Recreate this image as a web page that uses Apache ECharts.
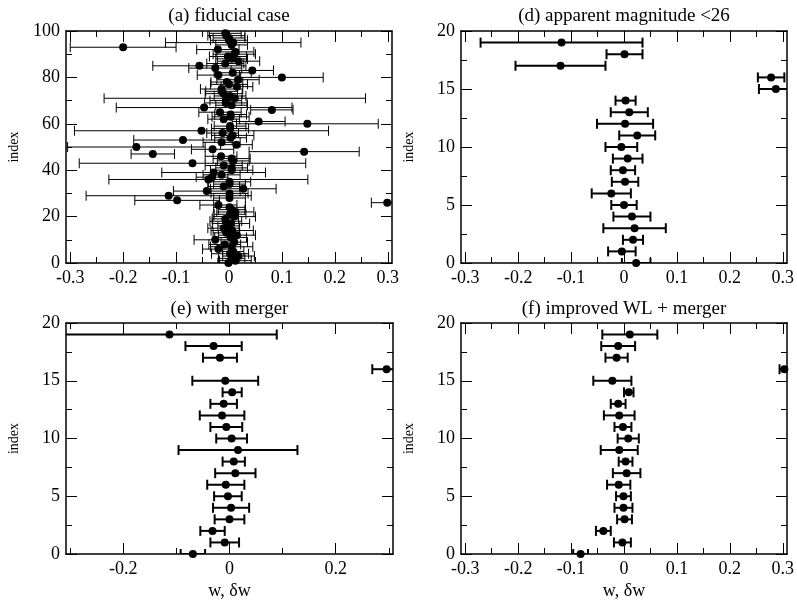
<!DOCTYPE html>
<html>
<head>
<meta charset="utf-8">
<script src="https://cdn.jsdelivr.net/npm/echarts@6/dist/echarts.min.js"></script>
<style>html,body{margin:0;padding:0;background:#fff}#c{width:797px;height:603px}</style>
</head>
<body>
<div id="c"></div>
<script>
// ---------- data ----------
const aIndex = [0,1,2,3,4,5,6,7,8,9,10,11,12,13,14,15,16,17,18,19,20,21,22,23,24,25,26,27,28,29,30,31,32,33,34,35,36,37,38,39,40,41,42,43,44,45,46,47,48,49,50,51,52,53,54,55,56,57,58,59,60,61,62,63,64,65,66,67,68,69,70,71,72,73,74,75,76,77,78,79,80,81,82,83,84,85,86,87,88,89,90,91,92,93,94,95,96,97,98,99];
const aW = [-0.001,0.012,0.005,0.018,0.002,0.008,-0.020,0.005,-0.008,0.010,
  -0.026,0.003,0.015,-0.005,0.006,-0.010,-0.001,0.004,-0.006,-0.007,
  0.010,0.002,0.012,0.005,0.001,-0.020,0.299,-0.098,0.001,-0.114,
  0.001,-0.042,0.027,-0.010,0.001,0.001,-0.039,-0.032,-0.014,-0.029,
  0.005,0.005,-0.010,-0.069,0.008,0.005,-0.015,-0.144,0.142,-0.031,
  -0.175,0.014,-0.014,-0.087,0.003,0.007,-0.012,-0.052,0.002,0.002,
  0.148,0.056,-0.010,0.003,0.003,-0.017,0.081,-0.047,0.005,-0.006,
  -0.006,0.011,0.002,-0.010,-0.014,-0.014,0.015,0.000,-0.004,0.017,
  0.100,-0.020,0.007,0.044,-0.026,-0.056,-0.007,0.018,0.005,-0.002,
  0.010,0.012,-0.021,-0.200,0.005,0.008,0.000,0.000,-0.005,-0.007];
const aErr = [0.02,0.03,0.025,0.03,0.035,0.02,0.03,0.04,0.03,0.025,
  0.04,0.03,0.035,0.025,0.04,0.03,0.02,0.035,0.03,0.025,
  0.04,0.03,0.035,0.025,0.03,0.035,0.03,0.08,0.03,0.156,
  0.035,0.063,0.062,0.03,0.03,0.04,0.188,0.03,0.035,0.098,
  0.04,0.03,0.035,0.214,0.03,0.035,0.03,0.041,0.104,0.04,
  0.13,0.03,0.035,0.093,0.03,0.04,0.03,0.24,0.035,0.03,
  0.134,0.05,0.03,0.035,0.03,0.04,0.04,0.166,0.03,0.04,
  0.03,0.247,0.03,0.035,0.03,0.04,0.03,0.035,0.03,0.04,
  0.078,0.04,0.035,0.04,0.05,0.088,0.035,0.04,0.03,0.035,
  0.04,0.035,0.04,0.10,0.03,0.128,0.035,0.03,0.035,0.03];

const smallIndex = [0,1,2,3,4,5,6,7,8,9,10,11,12,13,14,15,16,17,18,19];
const dW   = [0.023,-0.004,0.017,0.020,0.015,0.000,-0.024,0.002,-0.002,0.007,-0.005,0.025,0.002,0.010,0.003,0.287,0.278,-0.120,0.001,-0.118];
const dErr = [0.027,0.026,0.019,0.059,0.035,0.024,0.037,0.025,0.023,0.028,0.030,0.034,0.053,0.035,0.019,0.032,0.025,0.085,0.034,0.153];
const eW   = [-0.069,-0.009,-0.032,0.000,0.003,-0.003,-0.007,0.011,0.008,0.016,0.004,-0.006,-0.014,-0.011,0.005,-0.008,0.296,-0.018,-0.030,-0.113];
const eErr = [0.023,0.027,0.023,0.028,0.034,0.026,0.035,0.038,0.021,0.112,0.029,0.030,0.042,0.025,0.018,0.062,0.027,0.032,0.053,0.202];
const fW   = [-0.082,-0.003,-0.039,0.001,-0.001,-0.001,-0.010,0.005,0.003,-0.009,0.008,-0.002,-0.009,-0.011,0.009,-0.022,0.303,-0.014,-0.011,0.011];
const fErr = [0.014,0.016,0.014,0.014,0.017,0.014,0.022,0.026,0.013,0.035,0.020,0.016,0.029,0.014,0.009,0.036,0.009,0.021,0.032,0.052];

const titles = ['(a) fiducial case','(d) apparent magnitude <26','(e) with merger','(f) improved WL + merger'];
const xTickValues = [-0.3,-0.2,-0.1,0,0.1,0.2,0.3];
const xTickLabels = ['-0.3','-0.2','-0.1','0','0.1','0.2','0.3'];
const xMinorValues = [-0.25,-0.15,-0.05,0.05,0.15,0.25];
const xTickValuesE = [-0.2,0,0.2];
const xTickLabelsE = ['-0.2','0','0.2'];
const xMinorValuesE = [-0.3,-0.1,0.1,0.3];

// ---------- layout / style ----------
const FONT = "'Liberation Serif','Times New Roman',serif";
const XMIN = -0.308, XMAX = 0.308;
const grids = [
  {left:66, top:31, width:326, height:232},
  {left:461, top:31, width:327, height:232},
  {left:66, top:323, width:327, height:231},
  {left:461, top:323, width:327, height:231}
];
const panels = [
  {idx:aIndex, w:aW, err:aErr, ymax:100, yint:20, xv:xTickValues, xl:xTickLabels, xm:xMinorValues, lw:1, xname:'', tgap:5},
  {idx:smallIndex, w:dW, err:dErr, ymax:20, yint:5, xv:xTickValues, xl:xTickLabels, xm:xMinorValues, lw:2, xname:'', tgap:5},
  {idx:smallIndex, w:eW, err:eErr, ymax:20, yint:5, xv:xTickValuesE, xl:xTickLabelsE, xm:xMinorValuesE, lw:2, xname:'w, δw', tgap:4},
  {idx:smallIndex, w:fW, err:fErr, ymax:20, yint:5, xv:xTickValues, xl:xTickLabels, xm:xMinorValues, lw:2, xname:'w, δw', tgap:4}
];

const xAxes = [], yAxes = [], series = [];
const lineStyle = {color:'#000', width:1.5};
const tickStyle = {color:'#000', width:1};

panels.forEach((p, i) => {
  const base = {gridIndex:i, type:'value', min:XMIN, max:XMAX, splitLine:{show:false}};
  const labels = p.xl;
  const vals = p.xv;
  const bx = xAxes.length;
  xAxes.push(Object.assign({}, base, {
    position:'bottom',
    axisLine:{show:true, onZero:false, lineStyle:lineStyle},
    axisTick:{show:true, inside:true, length:11, lineStyle:tickStyle, customValues:vals},
    axisLabel:{show:true, customValues:vals, margin:6, color:'#000', fontFamily:FONT, fontSize:18,
      formatter:function(v){ for (let k=0;k<vals.length;k++){ if (Math.abs(vals[k]-v)<1e-9) return labels[k]; } return ''; }},
    name:p.xname, nameLocation:'middle', nameGap:28,
    nameTextStyle:{color:'#000', fontFamily:FONT, fontSize:18}
  }));
  xAxes.push(Object.assign({}, base, {
    position:'bottom', axisLine:{show:false, onZero:false},
    axisTick:{show:true, inside:true, length:6, lineStyle:tickStyle, customValues:p.xm},
    axisLabel:{show:false}
  }));
  xAxes.push(Object.assign({}, base, {
    position:'top',
    axisLine:{show:true, onZero:false, lineStyle:lineStyle},
    axisTick:{show:true, inside:true, length:11, lineStyle:tickStyle, customValues:vals},
    axisLabel:{show:false},
    name:titles[i], nameLocation:'middle', nameGap:p.tgap,
    nameTextStyle:{color:'#000', fontFamily:FONT, fontSize:19}
  }));
  xAxes.push(Object.assign({}, base, {
    position:'top', axisLine:{show:false, onZero:false},
    axisTick:{show:true, inside:true, length:6, lineStyle:tickStyle, customValues:p.xm},
    axisLabel:{show:false}
  }));
  const ybase = {gridIndex:i, type:'value', min:0, max:p.ymax, interval:p.yint, splitLine:{show:false},
    minorTick:{show:true, splitNumber:2, length:6, lineStyle:tickStyle}, minorSplitLine:{show:false}};
  const ly = yAxes.length;
  yAxes.push(Object.assign({}, ybase, {
    position:'left',
    axisLine:{show:true, onZero:false, lineStyle:lineStyle},
    axisTick:{show:true, inside:true, length:11, lineStyle:tickStyle},
    axisLabel:{show:true, margin:6, color:'#000', fontFamily:FONT, fontSize:18},
    name:'index', nameLocation:'middle', nameGap:45,
    nameTextStyle:{color:'#000', fontFamily:FONT, fontSize:14}
  }));
  yAxes.push(Object.assign({}, ybase, {
    position:'right',
    axisLine:{show:true, onZero:false, lineStyle:lineStyle},
    axisTick:{show:true, inside:true, length:11, lineStyle:tickStyle},
    axisLabel:{show:false}
  }));

  const pts = p.idx.map((y, k) => [p.w[k], y, p.err[k]]);
  const lw = p.lw;
  series.push({
    type:'custom', xAxisIndex:bx, yAxisIndex:ly, clip:true, silent:true,
    data:pts,
    renderItem:function(params, api){
      const x = api.value(0), y = api.value(1), e = api.value(2);
      const lo = x - e, hi = x + e;
      const l = Math.max(lo, XMIN), r = Math.min(hi, XMAX);
      const p1 = api.coord([l, y]), p2 = api.coord([r, y]);
      const h = 5;
      const st = {stroke:'#000', lineWidth:lw};
      const ch = [{type:'line', shape:{x1:p1[0], y1:p1[1], x2:p2[0], y2:p2[1]}, style:st}];
      if (lo >= XMIN) ch.push({type:'line', shape:{x1:p1[0], y1:p1[1]-h, x2:p1[0], y2:p1[1]+h}, style:st});
      if (hi <= XMAX) ch.push({type:'line', shape:{x1:p2[0], y1:p2[1]-h, x2:p2[0], y2:p2[1]+h}, style:st});
      return {type:'group', children:ch};
    },
    z:2
  });
  series.push({
    type:'scatter', xAxisIndex:bx, yAxisIndex:ly, symbol:'circle', symbolSize:8,
    itemStyle:{color:'#000', opacity:1}, data:pts.map(q => [q[0], q[1]]), clip:false, silent:true, z:3
  });
});

const chart = echarts.init(document.getElementById('c'), null, {renderer:'canvas'});
chart.setOption({
  animation:false,
  backgroundColor:'#fff',
  grid:grids.map(g => Object.assign({containLabel:false}, g)),
  xAxis:xAxes,
  yAxis:yAxes,
  series:series
});
</script>
</body>
</html>
